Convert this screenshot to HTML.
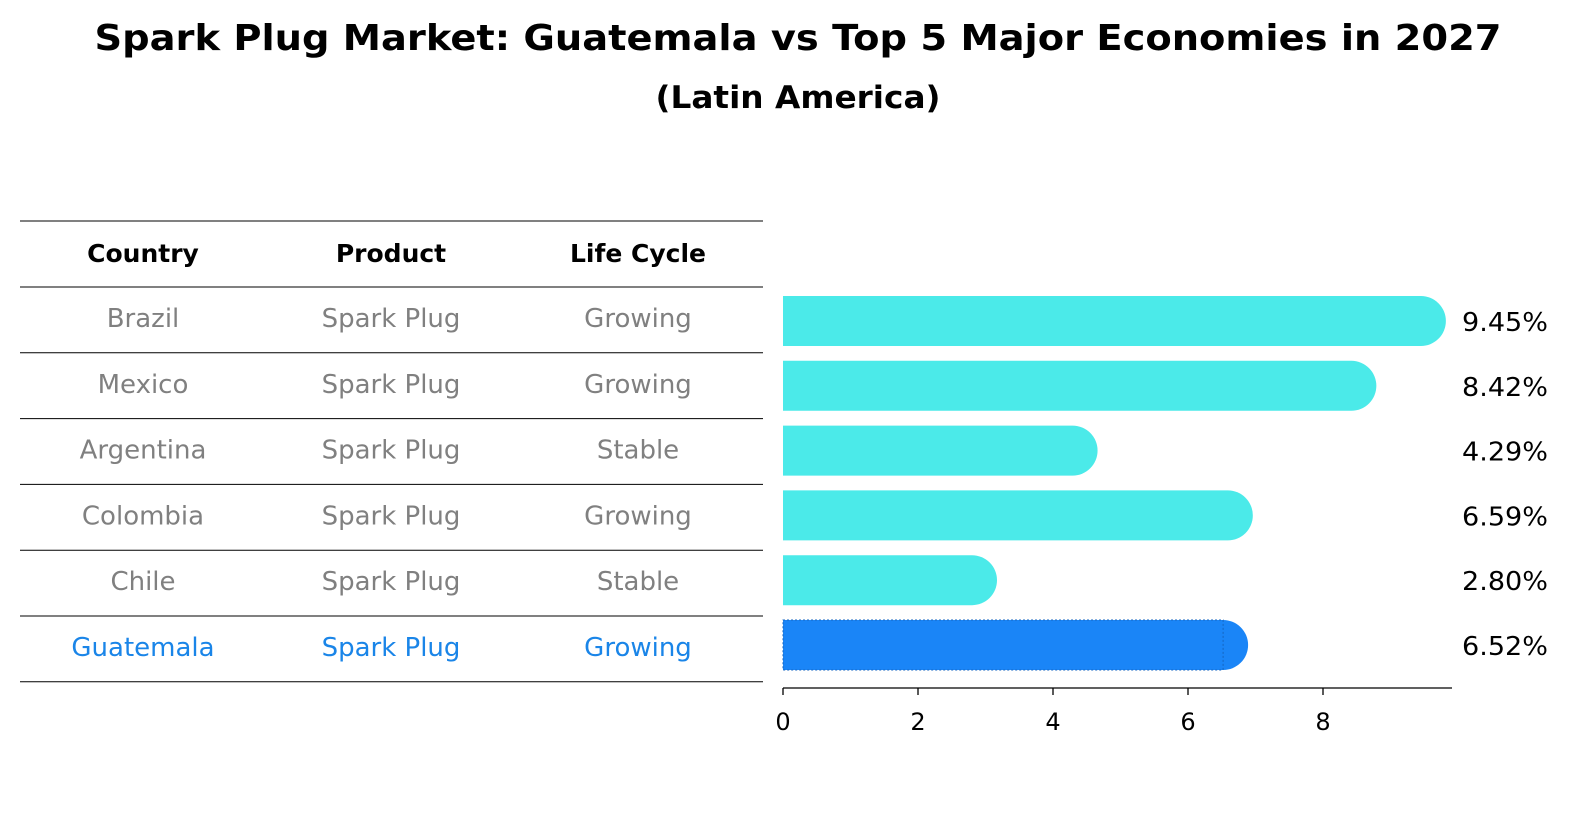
<!DOCTYPE html>
<html><head><meta charset="utf-8"><style>
body{margin:0;background:#fff;}
svg{display:block;font-family:"DejaVu Sans","Liberation Sans",sans-serif;}
</style></head><body>
<svg id="chart" width="1586" height="823" viewBox="0 0 1586 823">
<text x="798" y="50" text-anchor="middle" font-size="36" font-weight="bold" textLength="1407" lengthAdjust="spacingAndGlyphs">Spark Plug Market: Guatemala vs Top 5 Major Economies in 2027</text>
<text x="798" y="108" text-anchor="middle" font-size="31" font-weight="bold" textLength="285" lengthAdjust="spacingAndGlyphs">(Latin America)</text>
<g id="table"></g>
<g id="bars"></g>
<g id="axis"></g>
</svg>
<script>
const countries=["Brazil","Mexico","Argentina","Colombia","Chile","Guatemala"];
const products=["Spark Plug","Spark Plug","Spark Plug","Spark Plug","Spark Plug","Spark Plug"];
const lifeCycles=["Growing","Growing","Stable","Growing","Stable","Growing"];
const values=[9.45,8.42,4.29,6.59,2.80,6.52];
const tickValues=[0,2,4,6,8];

const NS="http://www.w3.org/2000/svg";
function mk(tag,attrs,parent){const e=document.createElementNS(NS,tag);for(const k in attrs)e.setAttribute(k,attrs[k]);parent.appendChild(e);return e;}
const xScale=v=>783+v*67.5;
const rowY=i=>321+i*64.8;
const tableLineY=i=>287+i*65.8;

const table=document.getElementById('table');
const colX=[143,391,638];
const headers=["Country","Product","Life Cycle"];
let l=mk('line',{x1:20,x2:763,y1:221,y2:221,stroke:'#000','stroke-width':1},table);


headers.forEach((h,j)=>{const t=mk('text',{x:colX[j],y:262,'text-anchor':'middle','font-size':25,'font-weight':'bold'},table);t.textContent=h;

});
for(let i=0;i<=countries.length;i++){
  const ln=mk('line',{x1:20,x2:763,y1:tableLineY(i),y2:tableLineY(i),stroke:'#000','stroke-width':1},table);
  
  
}
countries.forEach((c,i)=>{
  const last=i===countries.length-1;
  const col=last?'#1a85e8':'#808080';
  const y=tableLineY(i)+40;
  [c,products[i],lifeCycles[i]].forEach((txt,j)=>{
    const t=mk('text',{x:colX[j],y:y,'text-anchor':'middle','font-size':26,fill:col},table);t.textContent=txt;
    
    
  });
});

const bars=document.getElementById('bars');
values.forEach((v,i)=>{
  const last=i===values.length-1;
  const col=last?'#1a85f7':'#4beae9';
  const cy=rowY(i),h=50,x0=xScale(0),x1=xScale(v);
  const p=mk('path',{d:`M${x0},${cy-h/2} H${x1} A25,25 0 0 1 ${x1},${cy+h/2} H${x0} Z`,fill:col},bars);
  
  
  if(last){const r=mk('rect',{x:x0,y:cy-h/2,width:x1-x0,height:h,fill:'none',stroke:'#1565c0','stroke-width':1,'stroke-dasharray':'2,2'},bars);
    
    }
  const t=mk('text',{x:1462,y:cy+10,'font-size':26,textLength:86,lengthAdjust:'spacingAndGlyphs'},bars);t.textContent=v.toFixed(2)+'%';
  
  
});

const axis=document.getElementById('axis');
const al=mk('line',{x1:783,x2:1452,y1:688,y2:688,stroke:'#000','stroke-width':1.3},axis);


tickValues.forEach(v=>{
  const tk=mk('line',{x1:xScale(v),x2:xScale(v),y1:688,y2:695,stroke:'#000','stroke-width':1.3},axis);
  
  
  const t=mk('text',{x:xScale(v),y:730,'text-anchor':'middle','font-size':24},axis);t.textContent=v;
  
  
});
</script>
</body></html>
